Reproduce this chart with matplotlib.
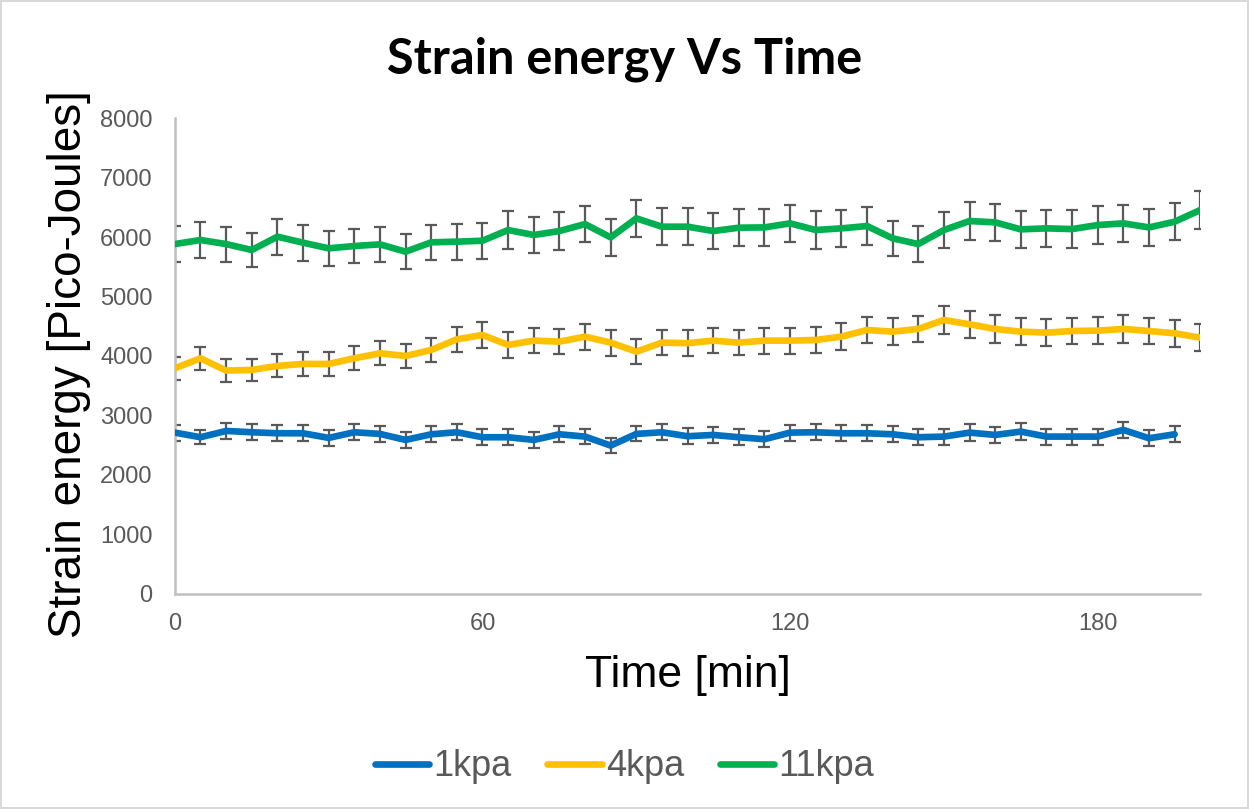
import numpy as np
import matplotlib.pyplot as plt

# Time points (min), sampled every 5 minutes
time_long = list(range(0, 201, 5))   # 4kpa and 11kpa go to 200
time_short = list(range(0, 196, 5))  # 1kpa stops at 195

# 1kpa mean strain energy and error
e_1kpa = [2711, 2633, 2739, 2717, 2700, 2700, 2622, 2717, 2689, 2588,
          2683, 2717, 2633, 2633, 2588, 2683, 2644, 2493, 2689, 2717,
          2650, 2672, 2633, 2600, 2711, 2717, 2700, 2700, 2683, 2633,
          2644, 2711, 2672, 2728, 2644, 2644, 2644, 2756, 2616, 2683]
err_1kpa = [135, 120, 137, 137, 135, 132, 128, 135, 132, 132,
            135, 132, 132, 135, 128, 132, 132, 120, 126, 135,
            132, 135, 132, 135, 135, 135, 135, 135, 137, 132,
            135, 137, 135, 137, 135, 135, 135, 140, 132, 137]

# 4kpa
e_4kpa = [3793, 3961, 3754, 3765, 3832, 3866, 3866, 3961, 4045, 4000,
          4101, 4280, 4353, 4185, 4258, 4241, 4325, 4224, 4073, 4224,
          4215, 4258, 4224, 4258, 4258, 4269, 4325, 4437, 4409, 4454,
          4605, 4532, 4454, 4409, 4392, 4420, 4426, 4454, 4420, 4381,
          4308]
err_4kpa = [196, 193, 190, 190, 193, 196, 196, 200, 204, 202,
            207, 215, 218, 213, 213, 213, 218, 218, 204, 213,
            215, 215, 215, 220, 220, 218, 224, 224, 224, 226,
            235, 226, 230, 224, 224, 224, 230, 230, 224, 224,
            224]

# 11kpa
e_11kpa = [5882, 5950, 5882, 5782, 6006, 5905, 5810, 5849, 5877, 5754,
           5911, 5922, 5938, 6118, 6034, 6101, 6218, 5994, 6314, 6174,
           6174, 6101, 6157, 6162, 6230, 6118, 6146, 6185, 5978, 5882,
           6118, 6269, 6247, 6129, 6146, 6134, 6202, 6230, 6162, 6258,
           6454]
err_11kpa = [300, 300, 294, 294, 305, 300, 294, 294, 300, 294,
             297, 300, 305, 314, 305, 314, 308, 305, 316, 314,
             314, 308, 308, 314, 316, 314, 310, 314, 297, 297,
             308, 314, 316, 308, 310, 314, 314, 310, 316, 310,
             327]

colors = ['#0070C0', '#FFC000', '#00B050']
labels = ['1kpa', '4kpa', '11kpa']

plt.rcParams['font.family'] = ['Liberation Sans', 'DejaVu Sans']

fig = plt.figure(figsize=(12.49, 8.09), dpi=100)
fig.patch.set_edgecolor('#D9D9D9')
fig.patch.set_linewidth(1.5)
ax = fig.add_axes([0.140, 0.266, 0.821, 0.588])

series = [(time_short, e_1kpa, err_1kpa),
          (time_long, e_4kpa, err_4kpa),
          (time_long, e_11kpa, err_11kpa)]

for (t, e, err), c, lab in zip(series, colors, labels):
    ax.errorbar(t, e, yerr=err, fmt='none', ecolor='#595959',
                elinewidth=1.6, capsize=4.5, capthick=1.6, zorder=2)
    ax.plot(t, e, color=c, lw=4.8, label=lab, zorder=3,
            solid_capstyle='round', solid_joinstyle='round')

ax.set_xlim(0, 200)
ax.set_ylim(0, 8000)
ax.set_xticks([0, 60, 120, 180])
ax.set_yticks(range(0, 8001, 1000))

for s in ['top', 'right']:
    ax.spines[s].set_visible(False)
for s in ['left', 'bottom']:
    ax.spines[s].set_color('#BFBFBF')
    ax.spines[s].set_linewidth(1.8)

ax.tick_params(axis='both', length=0, labelsize=17, labelcolor='#595959')
ax.tick_params(axis='y', pad=16)
ax.tick_params(axis='x', pad=14)

ax.set_xlabel('Time [min]', fontsize=32, labelpad=14)
ax.set_ylabel('Strain energy [Pico-Joules]', fontsize=33)
ax.yaxis.set_label_coords(-0.082, 0.483)

fig.suptitle('Strain energy Vs Time', fontsize=35, fontweight='bold',
             family='Lato', x=0.5, y=0.955)

fig.legend(loc='center', bbox_to_anchor=(0.5, 0.052), ncol=3, frameon=False,
           fontsize=26, handlelength=1.5, handletextpad=0.12,
           columnspacing=1.0, labelcolor='#595959')

fig.savefig('out.png', dpi=100)
